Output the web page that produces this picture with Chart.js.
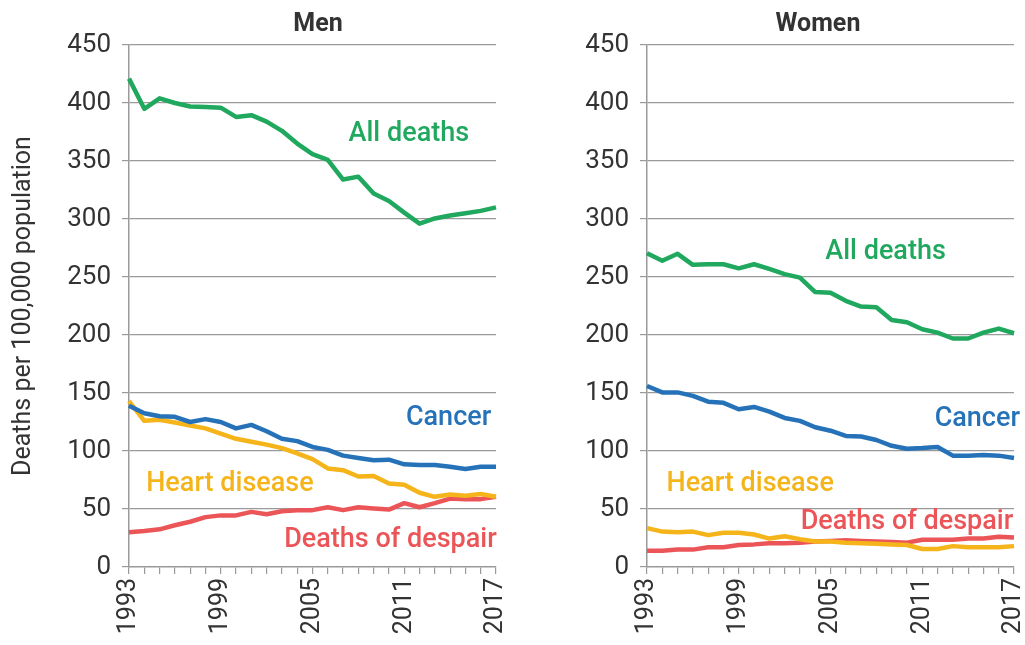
<!DOCTYPE html>
<html>
<head>
<meta charset="utf-8">
<script src="https://cdn.jsdelivr.net/npm/chart.js@4.4.1/dist/chart.umd.min.js"></script>
<style>
  html, body { margin: 0; padding: 0; background: #fff; overflow: hidden; }
  #wrap { position: relative; width: 1025px; height: 645px; overflow: hidden; }
  .panel { position: absolute; top: 0; height: 645px; }
  #men { left: 0; width: 530px; z-index: 2; }
  #women { left: 512px; width: 536px; z-index: 1; }
</style>
</head>
<body>
<div id="wrap">
  <div class="panel" id="men"><canvas id="menChart"></canvas></div>
  <div class="panel" id="women"><canvas id="womenChart"></canvas></div>
</div>
<script>
const years = ['1993','1994','1995','1996','1997','1998','1999','2000','2001','2002','2003','2004','2005',
               '2006','2007','2008','2009','2010','2011','2012','2013','2014','2015','2016','2017'];
const yTicks = [0, 50, 100, 150, 200, 250, 300, 350, 400, 450];
const yearLabels = ['1993', '1999', '2005', '2011', '2017'];

// Men
const menAll = [421, 395, 404, 400, 397, 396.5, 396, 388, 389.5, 384, 376, 365, 356, 351, 334, 336.5, 322, 315.5, 305.5, 296, 300.5, 303, 305, 307, 310];
const menCancer = [139, 132.5, 130, 129.5, 125, 127.5, 125, 119.5, 122.5, 117, 110.5, 108.5, 103.5, 101, 96, 94, 92, 92.5, 88.5, 88, 88, 86.5, 84.5, 86.5, 86.5];
const menHeart = [143, 126, 127, 124.5, 122, 119.5, 115, 110.5, 108, 105.5, 102.5, 98, 93, 85, 83.5, 78, 78.5, 72, 71, 64, 60.5, 62.5, 61.5, 63, 60.5];
const menDespair = [30, 31, 32.5, 36, 39, 43, 44.5, 44.5, 47.5, 45.5, 48, 49, 49, 51.5, 49, 51.5, 50.5, 49.5, 55, 51.5, 55, 59, 58.5, 58.5, 60.5];

// Women
const womenAll = [270.5, 264, 270, 260.5, 261, 261, 257.5, 261, 257, 252.5, 249.5, 237, 236.5, 229.5, 224.5, 224, 213, 211, 205, 202, 197, 197, 202, 205.5, 201.5];
const womenCancer = [156, 150.5, 150.5, 147.5, 142.5, 141.5, 136, 138, 134, 128.5, 126, 120.5, 117.5, 113, 112.5, 109.5, 104.5, 102, 102.5, 103.5, 96, 96, 96.5, 96, 94];
const womenHeart = [33.5, 30.5, 30, 30.5, 27.5, 29.5, 29.5, 28, 24.5, 26.5, 24, 22, 22, 21, 20.5, 20, 19.5, 19, 15.5, 15.5, 18, 17, 17, 17, 18];
const womenDespair = [14, 14, 15, 15, 17, 17, 19, 19.5, 20.5, 20.5, 21, 22, 22.5, 23, 22.5, 22, 21.5, 21, 23.5, 23.5, 23.5, 24.5, 24.5, 26, 25.5];

const GREEN = '#1fa85e', BLUE = '#2672b8', YELLOW = '#f5b41a', RED = '#ec5558';
const AXIS = '#9a9a9a', TEXT = '#333333';
const FONT = 'Roboto, "Liberation Sans", sans-serif';

// draws the panel title and the in-chart series labels
const annotate = {
  id: 'annotate',
  afterDatasetsDraw(chart, args, opts) {
    const ctx = chart.ctx, xs = chart.scales.x, ys = chart.scales.y;
    ctx.save();
    ctx.textAlign = 'center';
    ctx.textBaseline = 'middle';
    ctx.fillStyle = TEXT;
    ctx.font = 'bold 25px ' + FONT;
    ctx.fillText(opts.title, opts.titleX, 25);
    ctx.font = '500 27px ' + FONT;
    opts.labels.forEach(l => {
      ctx.fillStyle = l.color;
      ctx.fillText(l.text, xs.getPixelForValue(l.x), ys.getPixelForValue(l.y));
    });
    ctx.restore();
  }
};

function line(data, color) {
  return { data: data, borderColor: color, borderWidth: 4.5, pointRadius: 0, tension: 0, fill: false, borderJoinStyle: 'round' };
}

function makeChart(id, series, cfg) {
  return new Chart(document.getElementById(id), {
    type: 'line',
    data: {
      labels: years,
      datasets: [
        line(series[0], GREEN),
        line(series[1], BLUE),
        line(series[2], YELLOW),
        line(series[3], RED)
      ]
    },
    options: {
      responsive: true,
      maintainAspectRatio: false,
      animation: false,
      layout: { padding: { top: 45, right: 16, bottom: 0, left: 0 } },
      plugins: {
        legend: { display: false },
        tooltip: { enabled: false },
        annotate: cfg.annotate
      },
      scales: {
        x: {
          offset: false,
          afterFit: s => { s.height = 78; },
          border: { color: AXIS, width: 1.5 },
          grid: { drawOnChartArea: false, color: AXIS, tickLength: 7, lineWidth: 1.2 },
          ticks: {
            autoSkip: false, maxRotation: 90, minRotation: 90, padding: 4,
            color: TEXT, font: { family: FONT, size: 25 },
            callback: function (v) { const t = this.getLabelForValue(v); return yearLabels.includes(t) ? t : ''; }
          }
        },
        y: {
          min: 0, max: 450,
          afterFit: s => { s.width = cfg.yWidth; },
          afterBuildTicks: s => { s.ticks = yTicks.map(v => ({ value: v })); },
          border: { color: AXIS, width: 1.5 },
          grid: {
            color: c => c.tick && c.tick.value === 0 ? 'rgba(0,0,0,0)' : AXIS,
            lineWidth: 1.2, tickLength: 7,
            borderDash: [5, 4], tickBorderDash: [], tickColor: AXIS
          },
          ticks: { padding: 11, color: TEXT, font: { family: FONT, size: 26 } },
          title: {
            display: cfg.yTitle !== '', text: cfg.yTitle, color: TEXT,
            font: { family: FONT, size: 25 }, padding: { top: 9, bottom: 0 }
          }
        }
      }
    },
    plugins: [annotate]
  });
}

makeChart('menChart', [menAll, menCancer, menHeart, menDespair], {
  yWidth: 129, yTitle: 'Deaths per 100,000 population',
  annotate: {
    title: 'Men', titleX: 318,
    labels: [
      { text: 'All deaths', x: 18.3, y: 373, color: GREEN },
      { text: 'Cancer', x: 20.9, y: 128, color: BLUE },
      { text: 'Heart disease', x: 6.6, y: 71, color: YELLOW },
      { text: 'Deaths of despair', x: 17.1, y: 23, color: RED }
    ]
  }
});

makeChart('womenChart', [womenAll, womenCancer, womenHeart, womenDespair], {
  yWidth: 135, yTitle: '',
  annotate: {
    title: 'Women', titleX: 306,
    labels: [
      { text: 'All deaths', x: 15.6, y: 271, color: GREEN },
      { text: 'Cancer', x: 21.6, y: 127, color: BLUE },
      { text: 'Heart disease', x: 6.75, y: 71, color: YELLOW },
      { text: 'Deaths of despair', x: 17.0, y: 39, color: RED }
    ]
  }
});
</script>
</body>
</html>
